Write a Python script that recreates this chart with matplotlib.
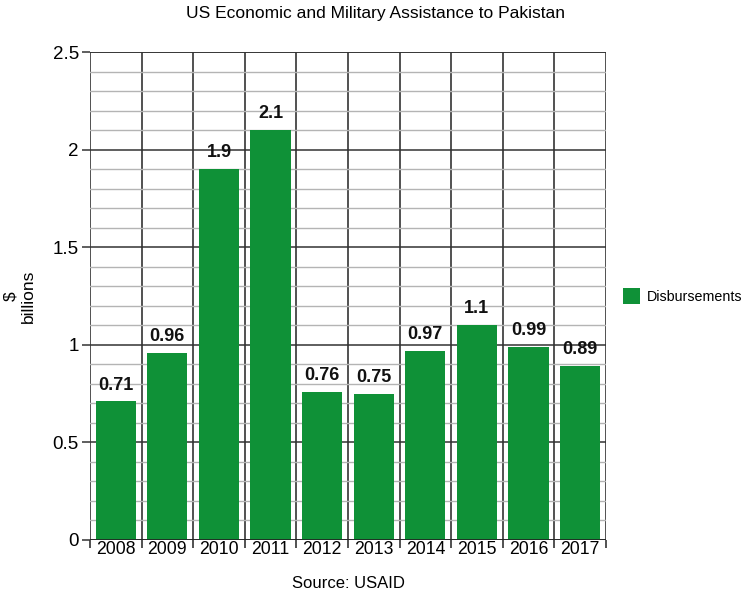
import numpy as np
import matplotlib
matplotlib.use('Agg')
import matplotlib.pyplot as plt
from matplotlib.ticker import MultipleLocator

# disbursements per fiscal year, $ billions
years = ['2008', '2009', '2010', '2011', '2012', '2013', '2014', '2015', '2016', '2017']
disbursements = [0.71, 0.96, 1.9, 2.1, 0.76, 0.75, 0.97, 1.1, 0.99, 0.89]
value_labels = ['0.71', '0.96', '1.9', '2.1', '0.76', '0.75', '0.97', '1.1', '0.99', '0.89']

GREEN = '#0f9137'

plt.rcParams['font.family'] = ['Liberation Sans', 'DejaVu Sans']

fig = plt.figure(figsize=(7.51, 5.98), dpi=100)
ax = fig.add_axes([0.1198, 0.097, 0.687, 0.816])

x = np.arange(len(years))
ax.set_xlim(-0.5, len(years) - 0.5)
ax.set_ylim(0, 2.5)

# minor and major horizontal grid
ax.yaxis.set_major_locator(MultipleLocator(0.5))
ax.yaxis.set_minor_locator(MultipleLocator(0.1))
ax.grid(axis='y', which='minor', color='#b4b4b4', lw=1.0, zorder=0)
ax.grid(axis='y', which='major', color='#333333', lw=1.1, zorder=0)

# vertical separators between years
for b in np.arange(-0.5, len(years) + 0.5, 1.0):
    ax.axvline(b, color='#222222', lw=1.1, zorder=1)

bars = ax.bar(x, disbursements, width=0.78, color=GREEN, zorder=2, label='Disbursements')
for xi, v, lab in zip(x, disbursements, value_labels):
    ax.text(xi, v + 0.04, lab, ha='center', va='bottom', fontsize=13,
            fontweight='bold', color='#111111', zorder=3)

for s in ax.spines.values():
    s.set_visible(False)
ax.axhline(2.5, color='#333333', lw=1.2, zorder=1)
ax.axhline(0, color='#222222', lw=1.2, zorder=3)

ax.set_yticks([0, 0.5, 1, 1.5, 2, 2.5])
ax.set_yticklabels(['0', '0.5', '1', '1.5', '2', '2.5'])
ax.tick_params(axis='y', which='major', length=6, width=1.1, color='#333333',
               labelsize=13.5, pad=2)
ax.tick_params(axis='y', which='minor', length=0)

# year labels sit between the boundary ticks
ax.set_xticks(np.arange(-0.5, len(years) + 0.5, 1.0))
ax.set_xticklabels([])
ax.set_xticks(x, minor=True)
ax.set_xticklabels(years, minor=True)
ax.tick_params(axis='x', which='major', length=6, width=1.1, color='#222222')
ax.tick_params(axis='x', which='minor', length=0, labelsize=12.7, pad=1)

ax.set_ylabel('\\$\nbillions', fontsize=12.5, labelpad=12)
ax.set_xlabel('Source: USAID', fontsize=12, labelpad=13)
fig.suptitle('US Economic and Military Assistance to Pakistan', fontsize=12.5, y=0.99)

ax.legend(loc='center left', bbox_to_anchor=(1.022, 0.5), borderaxespad=0,
          frameon=False, fontsize=10.3, handlelength=1.2, handleheight=1.4,
          handletextpad=0.45)

fig.savefig('out.png', dpi=100)
